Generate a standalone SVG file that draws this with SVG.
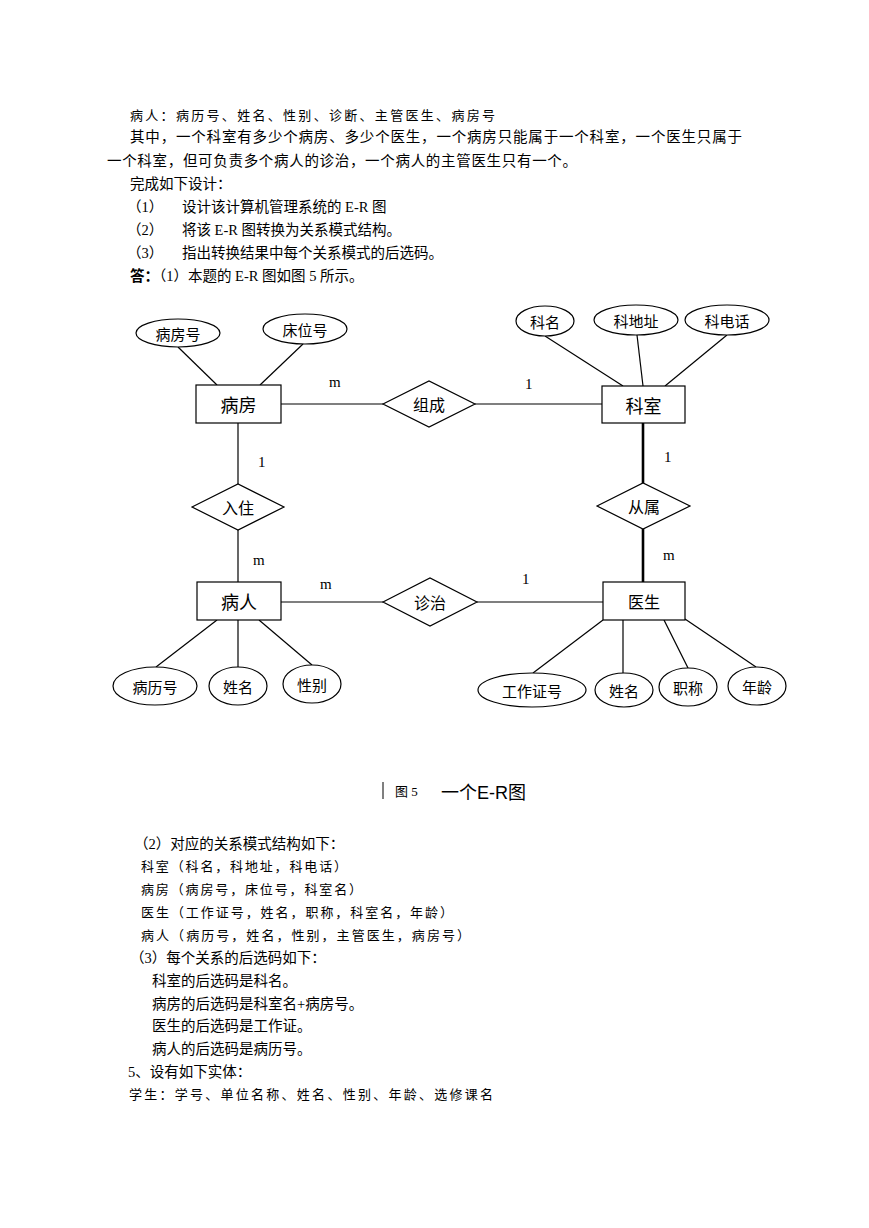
<svg xmlns="http://www.w3.org/2000/svg" width="869" height="1228" viewBox="0 0 869 1228">
<style>
text{text-spacing-trim:space-all}
.t{font-family:"Liberation Serif","Noto Sans CJK SC",serif;font-size:14.5px;fill:#000}
.k{font-family:"Noto Sans CJK SC",sans-serif;font-size:13px;fill:#000}
.b{font-weight:bold}
.shape{fill:#fff;stroke:#000;stroke-width:1.2}
.ln{stroke:#000;stroke-width:1.2;fill:none}
.thick{stroke:#000;stroke-width:2.6;fill:none}
.lbl{font-family:"Noto Sans CJK SC",sans-serif;font-size:15px;text-anchor:middle;dominant-baseline:central;fill:#000}
.rel{font-size:16px}
.ent{font-size:18px}
.card{font-family:"Liberation Serif",serif;font-size:15px;fill:#000}
</style>
<rect width="869" height="1228" fill="#fff"/>
<g id="top-text">
<text class="k" x="130" y="120" textLength="365" lengthAdjust="spacing">病人：病历号、姓名、性别、诊断、主管医生、病房号</text>
<text class="t" x="130" y="142" textLength="612" lengthAdjust="spacing">其中，一个科室有多少个病房、多少个医生，一个病房只能属于一个科室，一个医生只属于</text>
<text class="t" x="107" y="166" textLength="470" lengthAdjust="spacing">一个科室，但可负责多个病人的诊治，一个病人的主管医生只有一个。</text>
<text class="t" x="130" y="189">完成如下设计：</text>
<text class="t" x="127" y="212">（1）</text><text class="t" x="182" y="212">设计该计算机管理系统的 E-R 图</text>
<text class="t" x="127" y="235">（2）</text><text class="t" x="182" y="235">将该 E-R 图转换为关系模式结构。</text>
<text class="t" x="127" y="258">（3）</text><text class="t" x="182" y="258">指出转换结果中每个关系模式的后选码。</text>
<text class="t" x="130" y="281" style="text-spacing-trim:normal"><tspan class="b">答：</tspan>（1）本题的 E-R 图如图 5 所示。</text>
</g>
<g id="connectors">
<line class="ln" x1="178" y1="347" x2="217" y2="385"/>
<line class="ln" x1="303" y1="344" x2="260" y2="385"/>
<line class="ln" x1="281" y1="404" x2="383" y2="404"/>
<line class="ln" x1="475" y1="404" x2="602" y2="404"/>
<line class="ln" x1="545" y1="336" x2="623" y2="386"/>
<line class="ln" x1="637" y1="335" x2="643" y2="386"/>
<line class="ln" x1="727" y1="335" x2="665" y2="386"/>
<line class="ln" x1="238" y1="423" x2="238" y2="484"/>
<line class="ln" x1="238" y1="530" x2="238" y2="582"/>
<line class="thick" x1="643" y1="423" x2="643" y2="483"/>
<line class="thick" x1="643" y1="529" x2="643" y2="582"/>
<line class="ln" x1="281" y1="602" x2="383" y2="602"/>
<line class="ln" x1="477" y1="602" x2="603" y2="602"/>
<line class="ln" x1="217" y1="620" x2="156" y2="667"/>
<line class="ln" x1="238" y1="620" x2="238" y2="667"/>
<line class="ln" x1="259" y1="620" x2="312" y2="665"/>
<line class="ln" x1="603" y1="620" x2="533" y2="673"/>
<line class="ln" x1="623" y1="620" x2="623" y2="673"/>
<line class="ln" x1="664" y1="620" x2="688" y2="668"/>
<line class="ln" x1="685" y1="619" x2="756" y2="667"/>
<text class="card" x="329" y="387">m</text>
<text class="card" x="525" y="389">1</text>
<text class="card" x="258" y="467">1</text>
<text class="card" x="664" y="462">1</text>
<text class="card" x="253" y="565">m</text>
<text class="card" x="663" y="560">m</text>
<text class="card" x="320" y="589">m</text>
<text class="card" x="522" y="584">1</text>
</g>
<g id="bingfang"><rect class="shape" x="196" y="385" width="85" height="38"/><text class="lbl ent" x="238.5" y="404">病房</text></g>
<g id="keshi"><rect class="shape" x="602" y="386" width="83" height="37"/><text class="lbl ent" x="643.5" y="404.5">科室</text></g>
<g id="bingren"><rect class="shape" x="197" y="582" width="84" height="38"/><text class="lbl ent" x="239" y="601">病人</text></g>
<g id="yisheng"><rect class="shape" x="603" y="582" width="82" height="38"/><text class="lbl rel" x="644" y="601">医生</text></g>
<g id="zucheng"><polygon class="shape" points="383,404 429,381 475,404 429,427"/><text class="lbl rel" x="429" y="404">组成</text></g>
<g id="ruzhu"><polygon class="shape" points="192,507 238,484 284,507 238,530"/><text class="lbl rel" x="238" y="507">入住</text></g>
<g id="congshu"><polygon class="shape" points="597,506 643,483 690,506 643,529"/><text class="lbl rel" x="644" y="506">从属</text></g>
<g id="zhenzhi"><polygon class="shape" points="383,602 430,578 477,602 430,626"/><text class="lbl rel" x="430" y="602">诊治</text></g>
<g id="a-bingfanghao"><ellipse class="shape" cx="178" cy="333" rx="42" ry="14"/><text class="lbl" x="178" y="333">病房号</text></g>
<g id="a-chuangweihao"><ellipse class="shape" cx="305" cy="329" rx="42" ry="15"/><text class="lbl" x="305" y="329">床位号</text></g>
<g id="a-keming"><ellipse class="shape" cx="545" cy="321" rx="29" ry="15"/><text class="lbl" x="545" y="321">科名</text></g>
<g id="a-kedizhi"><ellipse class="shape" cx="636" cy="320" rx="42" ry="15"/><text class="lbl" x="636" y="320">科地址</text></g>
<g id="a-kedianhua"><ellipse class="shape" cx="727" cy="320" rx="42" ry="15"/><text class="lbl" x="727" y="320">科电话</text></g>
<g id="a-binglihao"><ellipse class="shape" cx="155" cy="686" rx="42" ry="19"/><text class="lbl" x="155" y="686">病历号</text></g>
<g id="a-xingming1"><ellipse class="shape" cx="238" cy="686" rx="29" ry="19"/><text class="lbl" x="238" y="686">姓名</text></g>
<g id="a-xingbie"><ellipse class="shape" cx="312" cy="684" rx="29" ry="19"/><text class="lbl" x="312" y="684">性别</text></g>
<g id="a-gongzuozhenghao"><ellipse class="shape" cx="532" cy="690" rx="54" ry="17"/><text class="lbl" x="532" y="690">工作证号</text></g>
<g id="a-xingming2"><ellipse class="shape" cx="624" cy="690" rx="29" ry="17"/><text class="lbl" x="624" y="690">姓名</text></g>
<g id="a-zhicheng"><ellipse class="shape" cx="688" cy="687" rx="29" ry="19"/><text class="lbl" x="688" y="687">职称</text></g>
<g id="a-nianling"><ellipse class="shape" cx="757" cy="686" rx="29" ry="19"/><text class="lbl" x="757" y="686">年龄</text></g>
<g id="caption">
<line x1="383" y1="782" x2="383" y2="799" stroke="#000" stroke-width="1"/>
<text class="t" x="395" y="796" style="font-size:13px">图 5</text>
<text x="441" y="799" style="font-family:'Liberation Sans','Noto Sans CJK SC',sans-serif;font-size:18px">一个E-R图</text>
</g>
<g id="bottom-text">
<text class="t" x="134" y="849">（2）对应的关系模式结构如下：</text>
<text class="k" x="141" y="871" textLength="206" lengthAdjust="spacing">科室（科名，科地址，科电话）</text>
<text class="k" x="141" y="894" textLength="221" lengthAdjust="spacing">病房（病房号，床位号，科室名）</text>
<text class="k" x="141" y="917" textLength="312" lengthAdjust="spacing">医生（工作证号，姓名，职称，科室名，年龄）</text>
<text class="k" x="141" y="940" textLength="329" lengthAdjust="spacing">病人（病历号，姓名，性别，主管医生，病房号）</text>
<text class="t" x="130" y="963">（3）每个关系的后选码如下：</text>
<text class="t" x="152" y="986">科室的后选码是科名。</text>
<text class="t" x="152" y="1009">病房的后选码是科室名+病房号。</text>
<text class="t" x="152" y="1031">医生的后选码是工作证。</text>
<text class="t" x="152" y="1054">病人的后选码是病历号。</text>
<text class="t" x="128" y="1077">5、设有如下实体：</text>
<text class="k" x="129" y="1099" textLength="364" lengthAdjust="spacing">学生：学号、单位名称、姓名、性别、年龄、选修课名</text>
</g>
</svg>
